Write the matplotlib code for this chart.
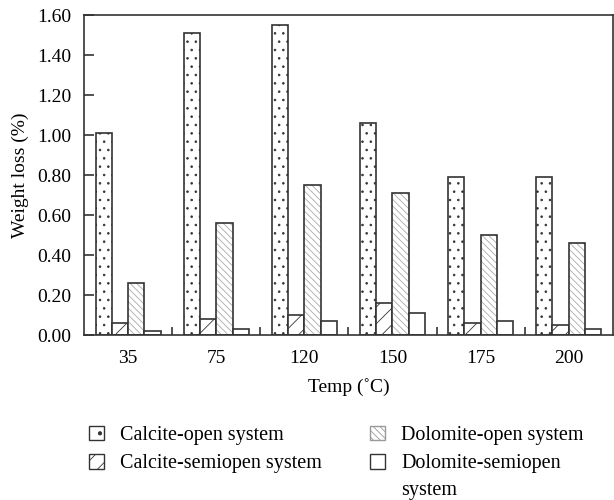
import numpy as np
import matplotlib.pyplot as plt
import matplotlib.patches as mpatches

plt.rcParams['font.family'] = ['Liberation Serif', 'DejaVu Serif']
plt.rcParams['hatch.linewidth'] = 0.6

temps = ["35", "75", "120", "150", "175", "200"]
calcite_open = [1.01, 1.51, 1.55, 1.06, 0.79, 0.79]
calcite_semi = [0.06, 0.08, 0.10, 0.16, 0.06, 0.05]
dolomite_open = [0.26, 0.56, 0.75, 0.71, 0.50, 0.46]
dolomite_semi = [0.02, 0.03, 0.07, 0.11, 0.07, 0.03]
labels = ["Calcite-open system", "Calcite-semiopen system",
          "Dolomite-open system", "Dolomite-semiopen"]

dark = "#333333"
fig = plt.figure(figsize=(6.14, 5.0), dpi=100)
ax = fig.add_axes([0.137, 0.33, 0.861, 0.64])

x = np.arange(len(temps))
w = 0.185
ax.bar(x - 1.5*w, calcite_open, w, facecolor="white", edgecolor=dark, hatch="..", lw=1.2)
ax.bar(x - 0.5*w, calcite_semi, w, facecolor="white", edgecolor=dark, hatch="//", lw=1.2)
ax.bar(x + 0.5*w, dolomite_open, w, facecolor="white", edgecolor="#aaaaaa", hatch="\\\\\\\\\\", lw=0)
ax.bar(x + 0.5*w, dolomite_open, w, fill=False, edgecolor=dark, lw=1.2)
ax.bar(x + 1.5*w, dolomite_semi, w, facecolor="white", edgecolor=dark, lw=1.2)

ax.set_xlim(-0.5, 5.5)
ax.set_ylim(0, 1.6)
ax.set_yticks(np.arange(0, 1.61, 0.2))
ax.set_yticklabels(["%.2f" % v for v in np.arange(0, 1.61, 0.2)])
ax.set_xticks(x)
ax.set_xticklabels(temps)
ax.set_xticks(x[:-1] + 0.5, minor=True)
ax.tick_params(axis="x", which="major", length=0, pad=11, labelsize=14)
ax.tick_params(axis="x", which="minor", direction="in", length=6, width=1.2, color=dark)
ax.tick_params(axis="y", direction="in", length=7, width=1.2, color=dark, pad=9, labelsize=14)
for s in ax.spines.values():
    s.set_color(dark)
    s.set_linewidth(1.2)

ax.set_xlabel("Temp (˚C)", fontsize=14, labelpad=8)
ax.set_ylabel("Weight loss (%)", fontsize=14, labelpad=6)

handles = [
    mpatches.Patch(facecolor="white", edgecolor=dark, hatch=". "),
    mpatches.Patch(facecolor="white", edgecolor=dark, hatch="//"),
    mpatches.Patch(facecolor="white", edgecolor="#999999", hatch="\\\\\\\\\\"),
    mpatches.Patch(facecolor="white", edgecolor=dark),
]
leg = fig.legend(handles, labels, ncol=2, loc="upper left", bbox_to_anchor=(0.115, 0.185),
                 frameon=False, fontsize=14.5, handlelength=0.75, handleheight=0.75,
                 handletextpad=0.8, columnspacing=2.4, labelspacing=0.45)

# second line of the last legend label, placed under its first line
fig.canvas.draw()
bb = leg.get_texts()[3].get_window_extent().transformed(fig.transFigure.inverted())
fig.text(bb.x0, bb.y0 - 27/500, "system", fontsize=14.5, va="bottom", ha="left")

fig.savefig("out.png", dpi=100)
